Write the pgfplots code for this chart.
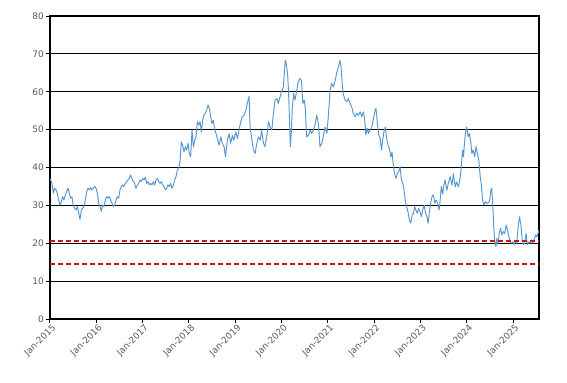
\documentclass[border=0pt]{standalone}
\usepackage{pgfplots}
\pgfplotsset{compat=1.18}
\usepackage{fontspec}
\setmainfont{DejaVu Sans}
\definecolor{serieblue}{RGB}{86,150,208}
\definecolor{dashred}{RGB}{204,20,20}
\definecolor{ticktext}{RGB}{89,89,89}
\begin{document}
\begin{tikzpicture}
\begin{axis}[
  scale only axis,
  width=489bp, height=303bp,
  at={(0,0)}, anchor=south west,
  xmin=0, xmax=10.56, ymin=0, ymax=80,
  xtick={0,1,2,3,4,5,6,7,8,9,10},
  xticklabels={Jan-2015,Jan-2016,Jan-2017,Jan-2018,Jan-2019,Jan-2020,Jan-2021,Jan-2022,Jan-2023,Jan-2024,Jan-2025},
  ytick={0,10,20,30,40,50,60,70,80},
  ymajorgrids,
  grid style={black, line width=0.9bp},
  axis line style={black, line width=1.2bp},
  tick style={black, line width=1bp},
  tick align=outside,
  major tick length=4bp,
  xtick pos=bottom, ytick pos=left,
  /pgf/number format/assume math mode=true,
  ticklabel style={font=\fontsize{9}{10}\selectfont, text=ticktext},
  xticklabel style={rotate=45, anchor=north east, inner sep=1bp, xshift=2bp},
  yticklabel style={inner sep=2bp},
]
\addplot[serieblue, line width=0.95bp, line join=round] coordinates {
(0.000,37.0)(0.014,36.7)(0.043,35.8)(0.072,33.2)(0.101,34.5)(0.130,34.1)(0.158,33.2)(0.187,31.4)(0.216,30.1)(0.245,31.0)
(0.274,32.3)(0.302,31.4)(0.331,32.8)(0.360,33.6)(0.389,34.5)(0.418,33.2)(0.446,31.9)(0.475,32.3)(0.504,29.7)(0.533,29.3)
(0.562,28.8)(0.590,29.7)(0.619,28.0)(0.648,26.3)(0.677,28.8)(0.706,29.3)(0.734,29.7)(0.763,31.4)(0.792,33.6)(0.821,34.5)
(0.850,34.1)(0.878,34.7)(0.907,34.1)(0.936,34.5)(0.965,35.0)(0.994,34.5)(1.022,33.2)(1.051,30.6)(1.080,29.7)(1.109,28.4)
(1.138,30.1)(1.166,29.7)(1.195,31.4)(1.224,32.3)(1.253,31.9)(1.281,32.3)(1.310,31.4)(1.339,30.6)(1.368,29.7)(1.397,30.1)
(1.425,31.4)(1.454,32.3)(1.483,31.9)(1.512,34.1)(1.541,35.0)(1.570,35.4)(1.598,35.0)(1.627,35.8)(1.656,36.3)(1.685,36.7)
(1.713,37.1)(1.742,38.0)(1.771,37.1)(1.800,36.3)(1.829,35.8)(1.857,34.5)(1.886,35.4)(1.915,35.8)(1.944,36.7)(1.973,36.3)
(2.001,37.1)(2.030,36.7)(2.059,37.4)(2.088,35.8)(2.117,36.3)(2.145,35.4)(2.174,35.8)(2.203,35.4)(2.232,36.3)(2.261,35.4)
(2.289,36.7)(2.318,37.1)(2.347,36.3)(2.376,35.8)(2.405,36.3)(2.433,35.4)(2.462,35.0)(2.491,34.1)(2.520,34.5)(2.549,35.4)
(2.577,35.0)(2.606,35.8)(2.635,34.5)(2.664,35.4)(2.693,36.7)(2.721,37.6)(2.750,39.4)(2.779,39.8)(2.808,41.6)(2.837,46.8)
(2.865,45.9)(2.894,44.1)(2.923,45.5)(2.952,44.6)(2.981,46.4)(3.009,43.7)(3.038,42.8)(3.067,49.9)(3.096,45.5)(3.125,47.2)
(3.153,48.1)(3.182,52.1)(3.211,51.2)(3.240,52.1)(3.269,49.4)(3.297,52.5)(3.326,53.9)(3.355,54.3)(3.384,55.2)(3.413,56.5)
(3.441,55.6)(3.470,53.4)(3.499,51.6)(3.528,52.5)(3.557,49.9)(3.585,49.0)(3.614,47.7)(3.65,45.9)(3.69,48.1)
(3.72,46.4)(3.76,45.5)(3.79,42.8)(3.83,47.2)(3.87,48.9)(3.90,46.4)(3.94,48.5)(3.97,47.2)(4.01,49.4)(4.05,47.6)
(4.08,49.9)(4.12,52.1)(4.15,53.4)(4.19,53.8)(4.23,55.1)(4.26,56.9)(4.30,58.8)(4.32,50.9)(4.356,47.7)(4.39,44.7)
(4.43,43.7)(4.46,46.0)(4.50,48.1)(4.54,47.2)(4.57,49.9)(4.61,46.4)(4.64,45.5)(4.68,48.1)(4.72,52.1)(4.75,50.7)
(4.79,49.9)(4.82,53.8)(4.86,57.8)(4.90,58.2)(4.93,56.9)(4.97,58.7)(5.00,60.0)(5.04,61.3)(5.08,68.3)(5.10,67.5)
(5.13,64.9)(5.15,60.4)(5.17,53.4)(5.19,45.5)(5.21,49.0)(5.23,55.1)(5.26,59.6)(5.29,57.8)(5.33,60.4)(5.36,62.6)
(5.40,63.5)(5.43,63.0)(5.46,56.9)(5.49,57.8)(5.515,55.6)(5.54,48.1)(5.58,48.5)(5.62,49.9)(5.65,49.0)(5.69,49.9)
(5.72,51.2)(5.76,53.8)(5.80,51.2)(5.83,45.5)(5.87,46.4)(5.90,48.1)(5.94,50.7)(5.98,49.0)(6.01,53.4)(6.05,60.4)
(6.08,62.2)(6.12,61.3)(6.16,63.0)(6.19,64.9)(6.23,66.6)(6.26,68.3)(6.285,66.6)(6.31,62.2)(6.33,59.6)(6.37,57.8)
(6.41,57.4)(6.44,58.2)(6.48,56.9)(6.516,56.0)(6.55,54.3)(6.59,53.4)(6.62,54.3)(6.66,53.8)(6.70,54.7)(6.73,53.4)
(6.77,54.7)(6.80,52.1)(6.82,48.6)(6.85,50.3)(6.88,49.0)(6.91,49.9)(6.95,50.7)(6.98,52.5)(7.02,55.1)(7.04,55.6)
(7.07,51.6)(7.10,48.6)(7.13,47.7)(7.16,44.6)(7.18,46.8)(7.21,49.4)(7.24,50.7)(7.27,47.7)(7.30,45.9)(7.33,45.0)
(7.36,42.8)(7.385,44.1)(7.41,41.1)(7.44,38.4)(7.47,37.1)(7.50,38.4)(7.53,38.9)(7.56,40.2)(7.59,36.7)(7.62,35.8)
(7.64,34.5)(7.67,31.4)(7.70,29.7)(7.73,28.3)(7.76,26.1)(7.79,25.3)(7.82,27.5)(7.85,27.9)(7.875,29.7)(7.90,28.8)
(7.93,27.9)(7.96,29.2)(7.99,28.3)(8.02,27.0)(8.05,28.8)(8.08,30.1)(8.11,27.9)(8.14,27.0)(8.165,25.3)(8.19,27.9)
(8.22,30.6)(8.25,32.3)(8.28,32.8)(8.31,30.6)(8.34,31.4)(8.37,30.6)(8.40,28.8)(8.42,30.6)(8.45,35.0)(8.48,33.0)
(8.50,34.9)(8.53,36.7)(8.57,34.0)(8.60,35.7)(8.64,37.6)(8.68,35.3)(8.71,38.4)(8.75,34.9)(8.78,36.2)(8.82,34.9)
(8.86,37.6)(8.88,40.2)(8.91,44.6)(8.93,42.8)(8.95,46.4)(8.97,49.0)(9.00,50.7)(9.03,48.1)(9.06,49.0)(9.09,46.4)
(9.11,43.7)(9.14,44.6)(9.17,42.8)(9.20,45.5)(9.23,43.7)(9.26,42.0)(9.29,37.6)(9.32,35.0)(9.34,31.4)(9.37,30.1)
(9.40,31.0)(9.43,30.5)(9.46,30.7)(9.49,31.0)(9.52,34.0)(9.54,34.5)(9.56,30.5)(9.58,25.3)(9.60,20.9)(9.63,19.1)
(9.65,21.3)(9.68,20.0)(9.70,22.6)(9.73,24.0)(9.76,22.2)(9.79,23.1)(9.82,22.6)(9.85,24.8)(9.88,23.5)(9.91,21.7)
(9.94,20.4)(9.97,20.0)(10.00,20.4)(10.02,19.6)(10.05,20.4)(10.08,20.0)(10.11,24.4)(10.14,27.0)(10.17,24.8)(10.20,20.4)
(10.22,19.6)(10.25,20.0)(10.28,22.6)(10.31,19.6)(10.34,20.4)(10.37,20.0)(10.40,20.9)(10.43,20.0)(10.46,21.3)(10.49,22.2)
(10.51,21.7)(10.54,22.6)(10.56,23.5)
};
\addplot[dashred, line width=1.8bp, dash pattern=on 5bp off 3bp] coordinates {(0,20.66)(10.56,20.66)};
\addplot[dashred, line width=1.8bp, dash pattern=on 5bp off 3bp] coordinates {(0,14.6)(10.56,14.6)};
\end{axis}
\pgfresetboundingbox
\path[use as bounding box] (-50bp,-64bp) rectangle (517bp,319bp);
\end{tikzpicture}
\end{document}
